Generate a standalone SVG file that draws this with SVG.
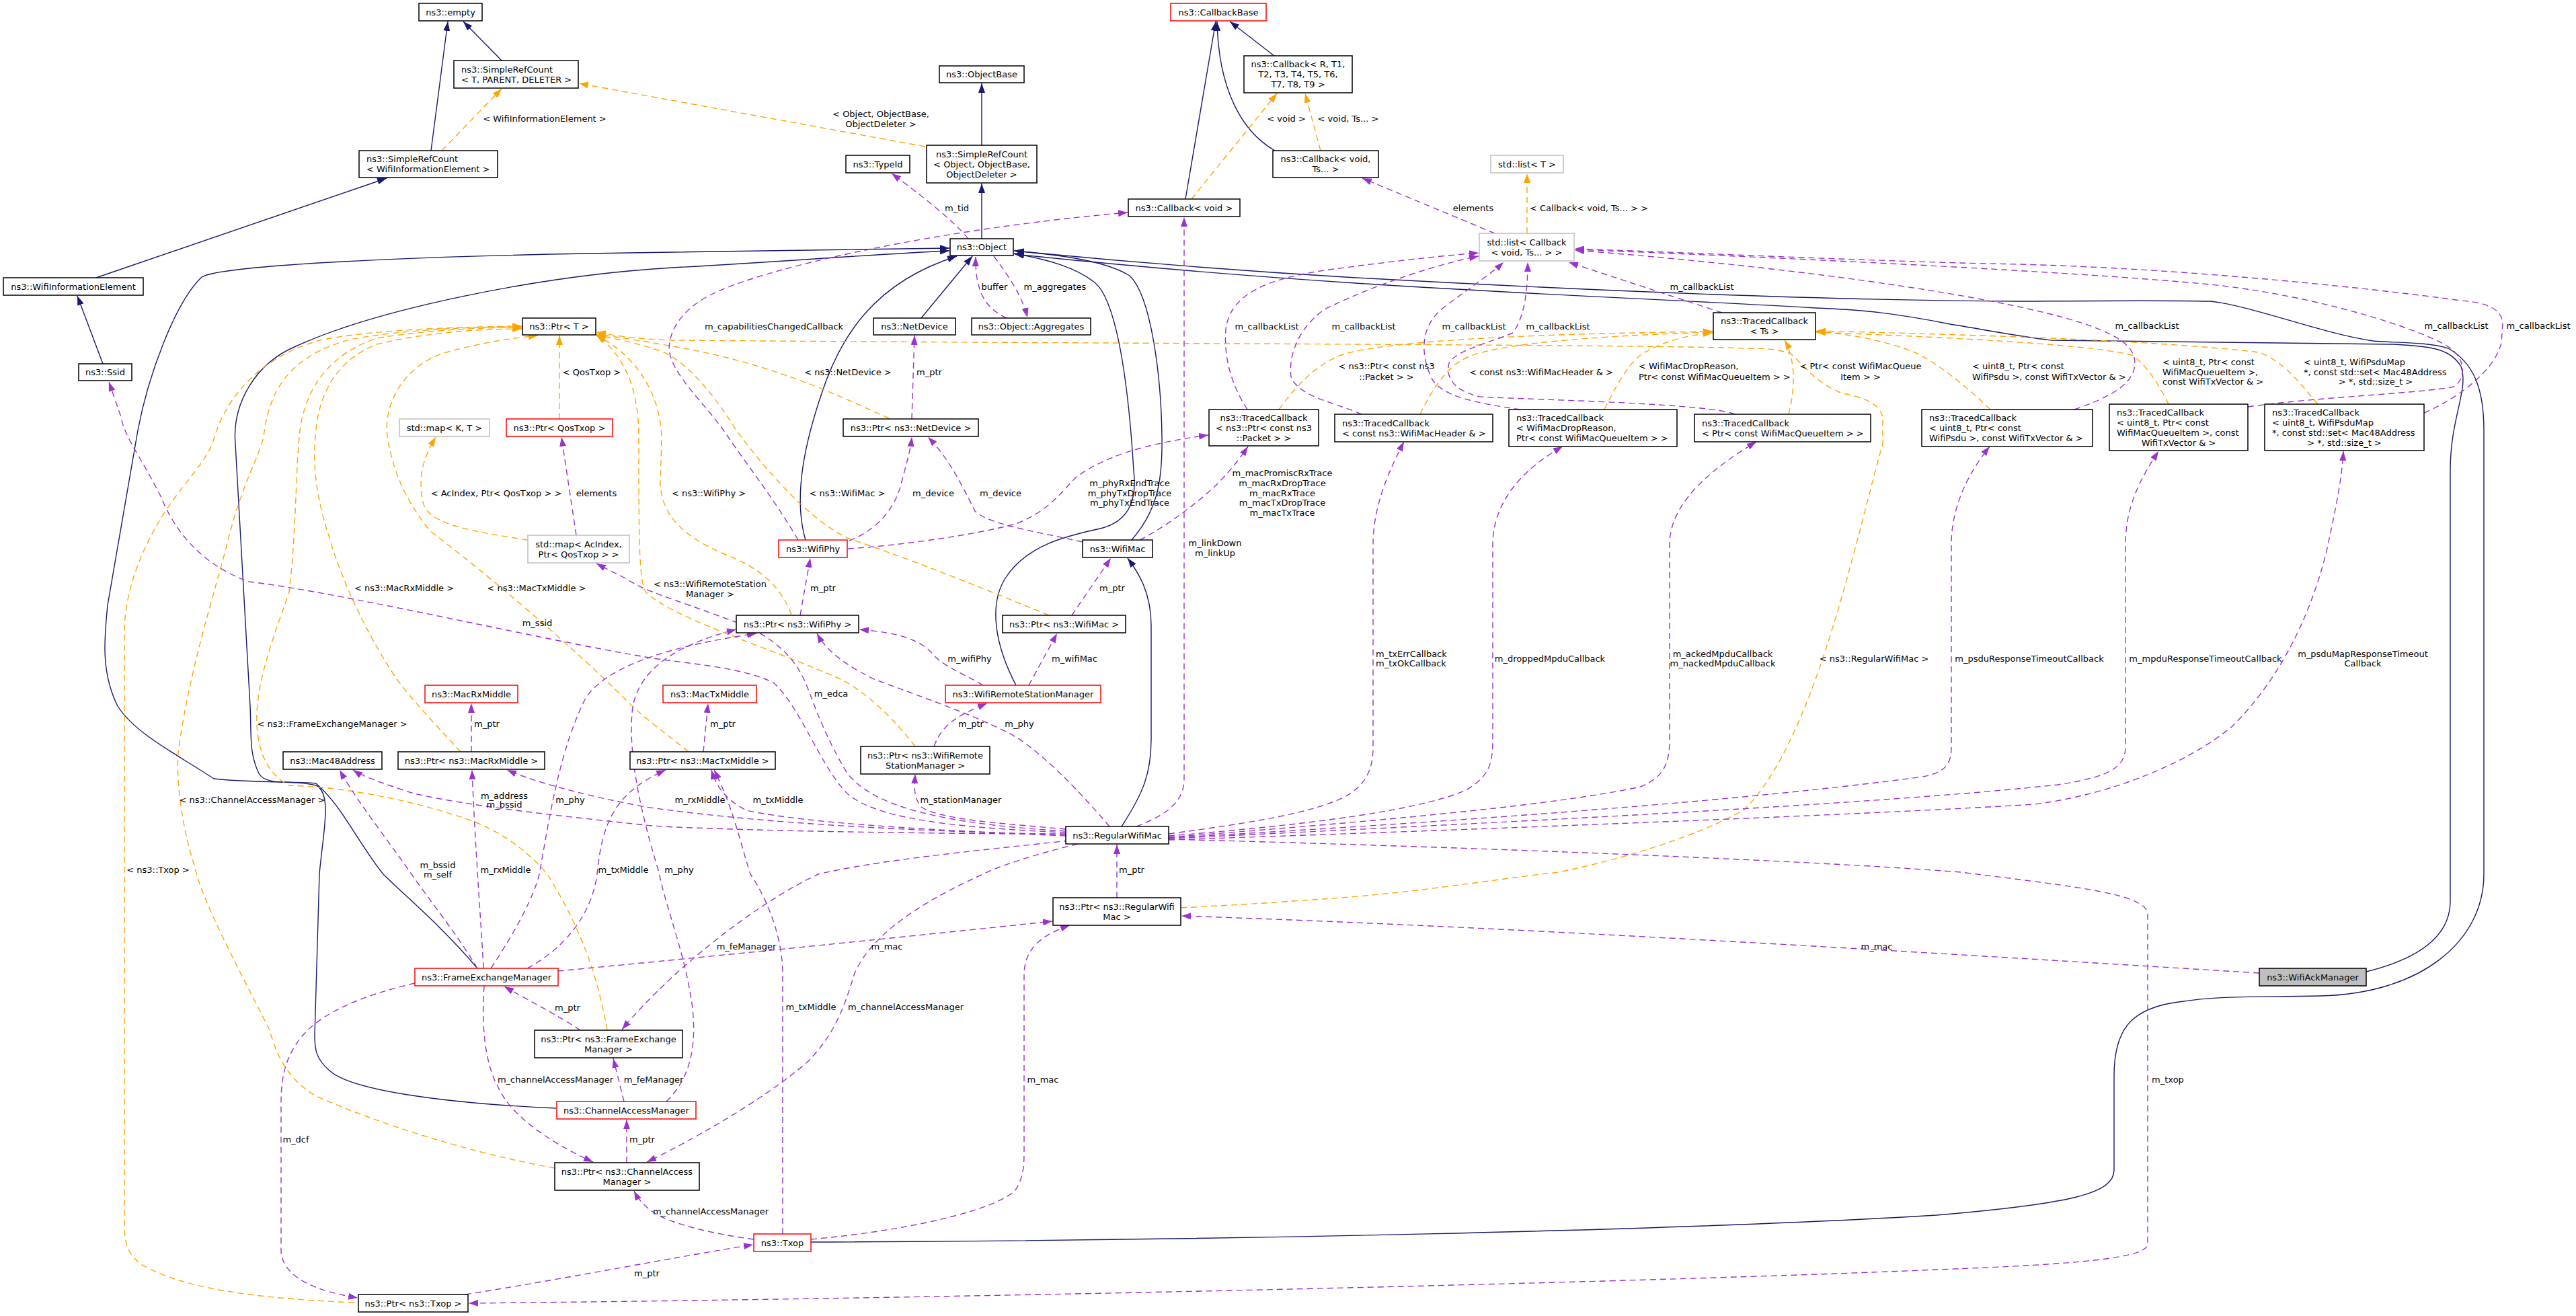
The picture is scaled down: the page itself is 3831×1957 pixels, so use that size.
<svg xmlns="http://www.w3.org/2000/svg" width="3831" height="1957" viewBox="0 0 3831 1957">
<style>
text{font-family:"DejaVu Sans","Liberation Sans",sans-serif;font-size:13px;fill:#000;text-anchor:middle}
text.s{text-anchor:start}
.nb{fill:#fff;stroke:#000;stroke-width:1.5}
.nr{fill:#fff;stroke:#f00;stroke-width:1.5}
.ng{fill:#fff;stroke:#bfbfbf;stroke-width:1.5}
.nf{fill:#bfbfbf;stroke:#000;stroke-width:1.5}
.e{fill:none;stroke-width:1.4}
.i{stroke:#191970;marker-end:url(#mb)}
.u{stroke:#9a32cd;stroke-dasharray:9,6;marker-end:url(#mp)}
.t{stroke:#ffa500;stroke-dasharray:9,6;marker-end:url(#mo)}
</style>
<defs>
<marker id="mb" viewBox="0 0 14 10" refX="14" refY="5" markerWidth="14" markerHeight="10" markerUnits="userSpaceOnUse" orient="auto"><path d="M0,0 L14,5 L0,10 z" fill="#191970"/></marker>
<marker id="mp" viewBox="0 0 14 10" refX="14" refY="5" markerWidth="14" markerHeight="10" markerUnits="userSpaceOnUse" orient="auto"><path d="M0,0 L14,5 L0,10 z" fill="#9a32cd"/></marker>
<marker id="mo" viewBox="0 0 14 10" refX="14" refY="5" markerWidth="14" markerHeight="10" markerUnits="userSpaceOnUse" orient="auto"><path d="M0,0 L14,5 L0,10 z" fill="#ffa500"/></marker>
</defs>
<rect width="3831" height="1957" fill="#fff"/>
<g id="edges">
<!-- inheritance -->
<path class="e i" d="M641,224 L666,32"/>
<path class="e i" d="M746,90 L689,32"/>
<path class="e i" d="M143,413 L575,265"/>
<path class="e i" d="M153,541 L115,440"/>
<path class="e i" d="M1895,83 L1829,32"/>
<path class="e i" d="M1896,224 C1845,195 1812,130 1810,32"/>
<path class="e i" d="M1763,296 L1808,32"/>
<path class="e i" d="M1460,216 L1460,124"/>
<path class="e i" d="M1460,355 L1460,273"/>
<path class="e i" d="M1370,473 L1446,381"/>
<path class="e i" d="M1198,803 C1178,735 1200,650 1222,585 C1250,500 1300,420 1423,381"/>
<path class="e i" d="M1683,803 C1720,760 1729,720 1728,650 C1727,560 1712,440 1680,410 C1640,385 1560,378 1508,373"/>
<path class="e i" d="M1511,1019 C1480,960 1470,900 1495,860 C1530,805 1600,795 1640,785 C1685,772 1690,735 1686,700 C1680,600 1665,450 1628,420 C1600,398 1560,386 1508,377"/>
<path class="e i" d="M710,1440 C660,1380 600,1330 570,1300 C530,1250 510,1200 470,1165 C440,1160 395,1170 385,1150 C370,1120 374,1090 372,1050 L350,660 C345,600 380,540 440,515 C560,460 800,410 1000,398 C1150,390 1300,378 1412,373"/>
<path class="e i" d="M827,1648 C650,1640 520,1620 490,1592 C470,1575 468,1560 468,1540 L475,1300 C480,1240 495,1180 470,1168 C440,1160 380,1165 318,1158 C260,1120 200,1090 175,1050 C150,1000 155,950 160,900 L205,640 C220,560 260,450 300,412 C330,395 600,380 1000,375 C1150,372 1300,370 1412,369"/>
<path class="e i" d="M3519,1445 C3600,1425 3644,1390 3644,1340 L3644,700 C3644,620 3672,580 3660,545 C3645,520 3620,515 3560,512 L3051,506 C3000,500 2950,490 2900,482 C2800,462 2750,460 2700,458 C2400,440 2000,430 1509,378"/>
<path class="e i" d="M1206,1847 C1800,1845 2500,1830 2880,1807 C3080,1790 3144,1775 3144,1740 L3144,1600 C3144,1530 3170,1499 3240,1490 C3300,1481 3330,1483 3450,1481 C3600,1478 3694,1400 3694,1300 L3694,640 C3694,580 3680,540 3641,518 C3610,508 3560,510 3529,507 C3450,495 3350,455 3287,448 C3200,446 3050,448 3000,448 C2800,447 2500,440 2000,412 C1800,400 1600,382 1509,373"/>
<path class="e i" d="M1668,1229 C1700,1180 1712,1150 1712,1100 L1712,930 C1712,880 1692,850 1677,830"/>
<!-- template instantiation -->
<path class="e t" d="M657,224 L746,132"/>
<path class="e t" d="M1376,218 L861,124"/>
<path class="e t" d="M1772,296 L1899,139"/>
<path class="e t" d="M1964,224 L1941,139"/>
<path class="e t" d="M2271,347 L2271,258"/>
<path class="e t" d="M785,803 C700,790 640,780 630,750 C620,710 630,680 648,650"/>
<path class="e t" d="M832,623 L832,499"/>
<path class="e t" d="M527,1937 C350,1930 260,1910 210,1880 C190,1865 185,1850 185,1820 L185,940 C185,860 230,780 260,740 C290,700 310,680 319,650 C340,580 400,525 480,505 C560,490 680,486 776,485"/>
<path class="e t" d="M825,1737 C700,1715 560,1670 470,1630 C420,1600 410,1560 400,1530 C360,1450 300,1340 290,1290 C270,1230 262,1160 265,1120 C280,1000 320,880 340,800 C360,720 385,680 392,650 C400,580 430,530 520,505 C600,490 700,486 776,486"/>
<path class="e t" d="M903,1532 C890,1460 870,1390 814,1300 C780,1260 740,1235 700,1220 C600,1185 500,1170 430,1168 C395,1150 380,1110 382,1060 C385,1000 410,940 430,880 C440,800 440,700 445,650 C450,590 480,530 560,503 C640,490 720,487 776,487"/>
<path class="e t" d="M685,1118 C660,1090 620,1050 590,1010 C550,950 510,870 490,800 C470,740 465,690 469,650 C472,600 490,540 560,512 C640,493 720,489 776,489"/>
<path class="e t" d="M1024,1118 C990,1090 960,1070 930,1040 C850,960 720,850 640,790 C600,740 585,700 576,650 C570,600 600,545 660,525 C720,508 770,502 800,499"/>
<path class="e t" d="M1322,622 C1250,590 1150,540 1000,515 C950,506 910,500 887,497"/>
<path class="e t" d="M1177,914 C1160,870 1130,845 1080,825 C1020,800 985,770 982,720 L984,650 C982,590 950,530 887,499"/>
<path class="e t" d="M1560,915 C1450,870 1350,830 1260,800 C1200,770 1140,700 1095,640 C1070,600 1030,545 990,525 C950,510 920,505 887,498"/>
<path class="e t" d="M1361,1110 C1330,1070 1290,1030 1250,1010 C1150,965 1000,920 960,880 C950,860 950,800 950,650 C950,580 930,530 887,498"/>
<path class="e t" d="M1756,1350 C1850,1345 1900,1342 1920,1340 C2100,1330 2200,1310 2318,1297 C2450,1270 2550,1230 2594,1204 C2700,1100 2760,800 2800,660 L2800,620 C2795,600 2770,590 2740,585 C2700,570 2680,540 2663,526 C2640,518 2620,518 2600,518 C2400,512 1800,512 1000,506 C940,504 910,498 887,494"/>
<path class="e t" d="M1902,609 C1930,570 1960,540 2000,526 C2100,500 2400,495 2547,493"/>
<path class="e t" d="M2112,616 C2130,580 2150,545 2185,530 C2250,505 2450,497 2547,494"/>
<path class="e t" d="M2386,609 C2410,560 2430,530 2450,522 C2480,505 2520,497 2547,495"/>
<path class="e t" d="M2660,616 C2672,570 2668,530 2654,506"/>
<path class="e t" d="M2960,609 C2920,570 2880,540 2850,525 C2800,505 2750,497 2701,493"/>
<path class="e t" d="M3225,601 C3210,570 3190,540 3170,528 C3100,510 2850,500 2701,494"/>
<path class="e t" d="M3447,601 C3420,570 3400,540 3360,524 C3200,505 2900,497 2701,492"/>
<!-- usage -->
<path class="e u" d="M1440,355 C1420,330 1370,290 1326,258"/>
<path class="e u" d="M1478,381 C1500,410 1520,440 1528,472"/>
<path class="e u" d="M1497,473 C1470,460 1450,440 1451,382"/>
<path class="e u" d="M1187,803 C1150,740 1110,690 1083,650 C1050,600 1000,560 995,520 C995,480 1030,450 1064,435 C1150,395 1400,340 1677,316"/>
<path class="e u" d="M1356,623 L1360,499"/>
<path class="e u" d="M1263,804 C1300,790 1330,760 1340,720 C1348,690 1354,670 1356,650"/>
<path class="e u" d="M1610,806 C1540,790 1470,780 1450,760 C1430,720 1410,680 1380,650"/>
<path class="e u" d="M1261,816 C1350,810 1450,795 1511,779 C1560,760 1580,730 1600,710 C1640,680 1700,660 1797,647"/>
<path class="e u" d="M1695,803 C1740,780 1790,740 1810,720 C1830,700 1845,680 1856,664"/>
<path class="e u" d="M1190,915 L1205,830"/>
<path class="e u" d="M1594,915 L1652,830"/>
<path class="e u" d="M1462,1019 C1430,1000 1400,990 1385,970 C1360,945 1320,940 1278,936"/>
<path class="e u" d="M1530,1019 L1572,942"/>
<path class="e u" d="M1389,1110 C1400,1080 1420,1065 1468,1046"/>
<path class="e u" d="M1585,1233 C1500,1225 1400,1220 1370,1200 C1358,1185 1360,1170 1361,1151"/>
<path class="e u" d="M1046,1118 L1053,1046"/>
<path class="e u" d="M701,1118 L701,1046"/>
<path class="e u" d="M1585,1236 C1400,1225 1300,1200 1260,1150 C1230,1100 1215,1060 1200,1020 C1180,970 1140,940 1080,920 C1000,890 960,880 930,860 C915,852 900,845 887,838"/>
<path class="e u" d="M1585,1238 C1400,1230 1300,1215 1260,1180 C1220,1140 1190,1050 1150,1015 C1100,990 1000,985 960,977 C800,950 500,880 370,865 C300,840 260,790 240,740 C210,680 185,650 180,620 L162,568"/>
<path class="e u" d="M1585,1240 C1300,1240 1000,1232 960,1227 C850,1215 700,1200 612,1179 C570,1165 540,1155 525,1145"/>
<path class="e u" d="M710,1440 C680,1390 640,1340 612,1300 C570,1240 530,1190 505,1145"/>
<path class="e u" d="M1585,1241 C1300,1235 1100,1220 960,1200 C880,1185 800,1165 754,1145"/>
<path class="e u" d="M719,1440 C716,1380 706,1250 702,1145"/>
<path class="e u" d="M1585,1243 C1400,1235 1200,1225 1110,1205 C1080,1190 1065,1170 1058,1145"/>
<path class="e u" d="M784,1440 C840,1410 880,1360 888,1300 C895,1230 910,1180 990,1145"/>
<path class="e u" d="M1164,1835 L1164,1450 C1164,1380 1130,1320 1116,1300 C1100,1250 1090,1200 1062,1145"/>
<path class="e u" d="M1650,1229 C1600,1170 1540,1110 1500,1090 C1440,1060 1380,1040 1300,1010 C1260,990 1230,970 1215,942"/>
<path class="e u" d="M730,1440 C770,1380 795,1330 802,1300 C815,1230 830,1120 870,1040 C900,990 1000,960 1125,942"/>
<path class="e u" d="M991,1638 C1030,1600 1035,1550 1030,1500 C1020,1420 990,1350 980,1297 C950,1200 935,1120 940,1060 C945,1000 1000,960 1095,936"/>
<path class="e u" d="M1591,1250 C1450,1265 1300,1280 1217,1300 C1130,1340 1000,1440 925,1531"/>
<path class="e u" d="M928,1638 L912,1574"/>
<path class="e u" d="M863,1532 C830,1510 790,1490 750,1467"/>
<path class="e u" d="M830,1444 C1000,1428 1300,1398 1565,1370"/>
<path class="e u" d="M1206,1843 C1350,1830 1480,1800 1510,1770 C1523,1750 1523,1730 1523,1710 L1523,1450 C1523,1410 1550,1390 1591,1376"/>
<path class="e u" d="M3360,1447 C3000,1425 2300,1380 1757,1362"/>
<path class="e u" d="M1661,1335 L1661,1256"/>
<path class="e u" d="M1603,1255 C1540,1270 1480,1290 1462,1300 C1350,1350 1290,1400 1270,1450 C1255,1500 1240,1540 1200,1580 C1130,1640 1020,1700 962,1728"/>
<path class="e u" d="M720,1466 C716,1520 720,1580 741,1617 C760,1660 820,1700 882,1728"/>
<path class="e u" d="M932,1729 L932,1665"/>
<path class="e u" d="M1121,1843 C1060,1835 1000,1820 975,1805 C960,1795 950,1785 943,1771"/>
<path class="e u" d="M617,1462 C540,1480 480,1505 450,1540 C425,1570 418,1600 418,1640 L418,1860 C420,1900 470,1920 532,1930"/>
<path class="e u" d="M692,1925 C850,1900 1000,1870 1120,1851"/>
<path class="e u" d="M1738,1248 C2200,1260 2700,1280 2916,1297 C3100,1320 3194,1330 3194,1360 L3194,1850 C3194,1870 3100,1880 2880,1888 C2500,1905 1500,1930 697,1938"/>
<path class="e u" d="M1738,1240 C1850,1225 1950,1210 2000,1185 C2035,1165 2042,1140 2042,1110 L2042,810 C2042,760 2060,710 2088,657"/>
<path class="e u" d="M1738,1243 C1900,1230 2100,1210 2180,1175 C2215,1155 2220,1135 2220,1100 L2220,810 C2220,750 2260,700 2324,664"/>
<path class="e u" d="M1738,1245 C2000,1225 2300,1200 2440,1170 C2475,1155 2483,1135 2483,1100 L2483,810 C2483,750 2540,700 2612,657"/>
<path class="e u" d="M1738,1246 C2200,1220 2600,1190 2860,1155 C2895,1148 2902,1135 2902,1110 L2902,810 C2902,750 2930,700 2959,664"/>
<path class="e u" d="M1738,1247 C2300,1220 2800,1195 3060,1167 C3140,1155 3161,1140 3161,1110 L3161,810 C3161,750 3185,710 3210,671"/>
<path class="e u" d="M1738,1249 C2300,1230 2800,1210 3026,1196 C3150,1180 3260,1130 3320,1080 C3400,1000 3440,900 3460,820 C3475,750 3483,710 3485,671"/>
<path class="e u" d="M1690,1229 C1740,1210 1760,1190 1761,1160 L1761,323"/>
<path class="e u" d="M2561,465 L2333,390"/>
<path class="e u" d="M1855,609 C1830,570 1820,530 1823,490 C1830,430 1900,410 2000,398 C2100,385 2150,380 2199,376"/>
<path class="e u" d="M2025,616 C1990,600 1930,590 1920,560 C1915,520 1940,480 1970,460 C2050,420 2150,390 2199,381"/>
<path class="e u" d="M2261,609 C2200,600 2140,590 2128,560 C2110,520 2115,480 2150,455 C2190,425 2220,405 2236,390"/>
<path class="e u" d="M2580,616 C2540,600 2300,595 2200,590 C2160,580 2150,560 2155,540 C2165,520 2230,505 2250,495 C2268,470 2272,430 2272,390"/>
<path class="e u" d="M3085,609 C3140,590 3175,570 3175,540 C3175,515 3150,500 3110,485 C3000,445 2700,400 2342,372"/>
<path class="e u" d="M3343,605 C3450,590 3600,585 3650,575 C3670,560 3665,530 3640,515 C3600,490 3450,440 3287,423 C3100,405 2700,385 2342,371"/>
<path class="e u" d="M3605,614 C3660,590 3710,550 3720,510 L3722,480 C3720,460 3700,450 3660,447 C3500,425 3200,395 2950,392 C2700,385 2500,375 2342,370"/>
<path class="e u" d="M2223,347 L2026,265"/>
<path class="e u" d="M857,796 L835,650"/>
<!-- edge labels -->
<text x="810" y="180.5">&lt; WifiInformationElement &gt;</text>
<text x="1310" y="173.5">&lt; Object, ObjectBase,</text>
<text x="1310" y="188.5">ObjectDeleter &gt;</text>
<text x="1423" y="313.5">m_tid</text>
<text x="1479" y="430.5">buffer</text>
<text x="1569" y="430.5">m_aggregates</text>
<text x="1151" y="489.5">m_capabilitiesChangedCallback</text>
<text x="1261" y="557.5">&lt; ns3::NetDevice &gt;</text>
<text x="1382" y="557.5">m_ptr</text>
<text x="1913" y="180.5">&lt; void &gt;</text>
<text x="2005" y="180.5">&lt; void, Ts... &gt;</text>
<text x="2191" y="313.5">elements</text>
<text x="2363" y="313.5">&lt; Callback&lt; void, Ts... &gt; &gt;</text>
<text x="2531" y="430.5">m_callbackList</text>
<text x="1884" y="489.5">m_callbackList</text>
<text x="2028" y="489.5">m_callbackList</text>
<text x="2192" y="489.5">m_callbackList</text>
<text x="2317" y="489.5">m_callbackList</text>
<text x="3193" y="488.5">m_callbackList</text>
<text x="3653" y="488.5">m_callbackList</text>
<text x="3775" y="488.5">m_callbackList</text>
<text x="2062" y="548.5">&lt; ns3::Ptr&lt; const ns3</text>
<text x="2062" y="564.5">::Packet &gt; &gt;</text>
<text x="2292" y="557.5">&lt; const ns3::WifiMacHeader &amp; &gt;</text>
<text class="s" x="2437" y="548.5">&lt; WifiMacDropReason,</text>
<text class="s" x="2437" y="564.5">Ptr&lt; const WifiMacQueueItem &gt; &gt;</text>
<text x="2767" y="548.5">&lt; Ptr&lt; const WifiMacQueue</text>
<text x="2767" y="564.5">Item &gt; &gt;</text>
<text class="s" x="2933" y="548.5">&lt; uint8_t, Ptr&lt; const</text>
<text class="s" x="2933" y="564.5">WifiPsdu &gt;, const WifiTxVector &amp; &gt;</text>
<text class="s" x="3216" y="542.5">&lt; uint8_t, Ptr&lt; const</text>
<text class="s" x="3216" y="557.5">WifiMacQueueItem &gt;,</text>
<text class="s" x="3216" y="571.5">const WifiTxVector &amp; &gt;</text>
<text class="s" x="3426" y="542.5">&lt; uint8_t, WifiPsduMap</text>
<text class="s" x="3426" y="557.5">*, const std::set&lt; Mac48Address</text>
<text x="3533" y="571.5">&gt; *, std::size_t &gt;</text>
<text x="880" y="557.5">&lt; QosTxop &gt;</text>
<text x="738" y="737.5">&lt; AcIndex, Ptr&lt; QosTxop &gt; &gt;</text>
<text x="887" y="737.5">elements</text>
<text x="1054" y="737.5">&lt; ns3::WifiPhy &gt;</text>
<text x="1260" y="737.5">&lt; ns3::WifiMac &gt;</text>
<text x="1388" y="737.5">m_device</text>
<text x="1488" y="737.5">m_device</text>
<text x="1680" y="722.5">m_phyRxEndTrace</text>
<text x="1680" y="737.5">m_phyTxDropTrace</text>
<text x="1680" y="751.5">m_phyTxEndTrace</text>
<text x="1907" y="707.5">m_macPromiscRxTrace</text>
<text x="1907" y="722.5">m_macRxDropTrace</text>
<text x="1907" y="737.5">m_macRxTrace</text>
<text x="1907" y="751.5">m_macTxDropTrace</text>
<text x="1907" y="766.5">m_macTxTrace</text>
<text x="1807" y="811.5">m_linkDown</text>
<text x="1807" y="826.5">m_linkUp</text>
<text x="601" y="878.5">&lt; ns3::MacRxMiddle &gt;</text>
<text x="798" y="878.5">&lt; ns3::MacTxMiddle &gt;</text>
<text x="799" y="930.5">m_ssid</text>
<text x="1056" y="872.5">&lt; ns3::WifiRemoteStation</text>
<text x="1056" y="887.5">Manager &gt;</text>
<text x="1224" y="878.5">m_ptr</text>
<text x="1654" y="878.5">m_ptr</text>
<text x="1442" y="983.5">m_wifiPhy</text>
<text x="1598" y="983.5">m_wifiMac</text>
<text x="1236" y="1035.5">m_edca</text>
<text x="724" y="1080.5">m_ptr</text>
<text x="494" y="1080.5">&lt; ns3::FrameExchangeManager &gt;</text>
<text x="1075" y="1080.5">m_ptr</text>
<text x="1444" y="1080.5">m_ptr</text>
<text x="1516" y="1080.5">m_phy</text>
<text x="375" y="1193.5">&lt; ns3::ChannelAccessManager &gt;</text>
<text x="750" y="1187.5">m_address</text>
<text x="750" y="1200.5">m_bssid</text>
<text x="848" y="1193.5">m_phy</text>
<text x="1041" y="1193.5">m_rxMiddle</text>
<text x="1157" y="1193.5">m_txMiddle</text>
<text x="1429" y="1193.5">m_stationManager</text>
<text x="651" y="1290.5">m_bssid</text>
<text x="651" y="1304.5">m_self</text>
<text x="752" y="1297.5">m_rxMiddle</text>
<text x="927" y="1297.5">m_txMiddle</text>
<text x="235" y="1297.5">&lt; ns3::Txop &gt;</text>
<text x="1010" y="1297.5">m_phy</text>
<text x="1683" y="1297.5">m_ptr</text>
<text x="1110" y="1411.5">m_feManager</text>
<text x="1319" y="1411.5">m_mac</text>
<text x="2791" y="1411.5">m_mac</text>
<text x="844" y="1502.5">m_ptr</text>
<text x="1206" y="1501.5">m_txMiddle</text>
<text x="1347" y="1501.5">m_channelAccessManager</text>
<text x="826" y="1609.5">m_channelAccessManager</text>
<text x="972" y="1609.5">m_feManager</text>
<text x="1551" y="1609.5">m_mac</text>
<text x="3224" y="1609.5">m_txop</text>
<text x="440" y="1698.5">m_dcf</text>
<text x="955" y="1698.5">m_ptr</text>
<text x="1057" y="1805.5">m_channelAccessManager</text>
<text x="962" y="1897.5">m_ptr</text>
<text class="s" x="2046" y="976.5">m_txErrCallback</text>
<text class="s" x="2046" y="990.5">m_txOkCallback</text>
<text x="2305" y="983.5">m_droppedMpduCallback</text>
<text x="2562" y="976.5">m_ackedMpduCallback</text>
<text x="2562" y="990.5">m_nackedMpduCallback</text>
<text x="2787" y="983.5">&lt; ns3::RegularWifiMac &gt;</text>
<text x="3018" y="983.5">m_psduResponseTimeoutCallback</text>
<text x="3280" y="983.5">m_mpduResponseTimeoutCallback</text>
<text x="3514" y="976.5">m_psduMapResponseTimeout</text>
<text x="3514" y="990.5">Callback</text>
</g>
<g id="n_empty"><rect class="nb" x="623" y="5" width="94" height="26"/><text x="670" y="22.5">ns3::empty</text></g>
<g id="n_srctpd"><rect class="nb" x="675" y="90" width="185" height="41"/><text class="s" x="686" y="107.5">ns3::SimpleRefCount</text><text class="s" x="686" y="122.5">&lt; T, PARENT, DELETER &gt;</text></g>
<g id="n_srcwie"><rect class="nb" x="534" y="224" width="206" height="40"/><text class="s" x="545" y="241">ns3::SimpleRefCount</text><text class="s" x="545" y="256">&lt; WifiInformationElement &gt;</text></g>
<g id="n_wie"><rect class="nb" x="5" y="413" width="208" height="26"/><text x="109" y="430.5">ns3::WifiInformationElement</text></g>
<g id="n_ssid"><rect class="nb" x="117" y="541" width="79" height="25"/><text x="156.5" y="558">ns3::Ssid</text></g>
<g id="n_callbackbase"><rect class="nr" x="1741" y="5" width="142" height="26"/><text x="1812" y="22.5">ns3::CallbackBase</text></g>
<g id="n_objectbase"><rect class="nb" x="1397" y="98" width="126" height="25"/><text x="1460" y="115">ns3::ObjectBase</text></g>
<g id="n_callbackr"><rect class="nb" x="1850" y="83" width="161" height="55"/><text x="1930.5" y="100">ns3::Callback&lt; R, T1,</text><text x="1930.5" y="115">T2, T3, T4, T5, T6,</text><text x="1930.5" y="130">T7, T8, T9 &gt;</text></g>
<g id="n_callbackvoidts"><rect class="nb" x="1893" y="224" width="157" height="40"/><text x="1971.5" y="241">ns3::Callback&lt; void,</text><text x="1971.5" y="256">Ts... &gt;</text></g>
<g id="n_srcobj"><rect class="nb" x="1378" y="216" width="164" height="56"/><text x="1460" y="233.5">ns3::SimpleRefCount</text><text x="1460" y="248.5">&lt; Object, ObjectBase,</text><text x="1460" y="263.5">ObjectDeleter &gt;</text></g>
<g id="n_typeid"><rect class="nb" x="1258" y="231" width="95" height="26"/><text x="1305.5" y="248.5">ns3::TypeId</text></g>
<g id="n_callbackvoid"><rect class="nb" x="1678" y="296" width="166" height="26"/><text x="1761" y="313.5">ns3::Callback&lt; void &gt;</text></g>
<g id="n_listt"><rect class="ng" x="2217" y="231" width="108" height="26"/><text x="2271" y="248.5">std::list&lt; T &gt;</text></g>
<g id="n_object"><rect class="nb" x="1413" y="355" width="94" height="25"/><text x="1460" y="372">ns3::Object</text></g>
<g id="n_listcb"><rect class="ng" x="2200" y="347" width="141" height="41"/><text x="2270.5" y="364.5">std::list&lt; Callback</text><text x="2270.5" y="379.5">&lt; void, Ts... &gt; &gt;</text></g>
<g id="n_netdevice"><rect class="nb" x="1299" y="473" width="122" height="25"/><text x="1360" y="490">ns3::NetDevice</text></g>
<g id="n_aggregates"><rect class="nb" x="1445" y="473" width="177" height="25"/><text x="1533.5" y="490">ns3::Object::Aggregates</text></g>
<g id="n_ptrt"><rect class="nb" x="777" y="473" width="109" height="25"/><text x="831.5" y="490">ns3::Ptr&lt; T &gt;</text></g>
<g id="n_tcts"><rect class="nb" x="2548" y="465" width="152" height="40"/><text x="2624" y="482">ns3::TracedCallback</text><text x="2624" y="497">&lt; Ts &gt;</text></g>
<g id="n_mapkt"><rect class="ng" x="594" y="623" width="134" height="26"/><text x="661" y="640.5">std::map&lt; K, T &gt;</text></g>
<g id="n_ptrqostxop"><rect class="nr" x="753" y="623" width="158" height="26"/><text x="832" y="640.5">ns3::Ptr&lt; QosTxop &gt;</text></g>
<g id="n_ptrnetdevice"><rect class="nb" x="1254" y="623" width="201" height="26"/><text x="1354.5" y="640.5">ns3::Ptr&lt; ns3::NetDevice &gt;</text></g>
<g id="n_tcpacket"><rect class="nb" x="1798" y="609" width="163" height="54"/><text x="1879.5" y="625.5">ns3::TracedCallback</text><text x="1879.5" y="640.5">&lt; ns3::Ptr&lt; const ns3</text><text x="1879.5" y="655.5">::Packet &gt; &gt;</text></g>
<g id="n_tcmacheader"><rect class="nb" x="1985" y="616" width="235" height="41"/><text class="s" x="1996" y="633.5">ns3::TracedCallback</text><text class="s" x="1996" y="648.5">&lt; const ns3::WifiMacHeader &amp; &gt;</text></g>
<g id="n_tcdropreason"><rect class="nb" x="2244" y="609" width="250" height="55"/><text class="s" x="2255" y="626">ns3::TracedCallback</text><text class="s" x="2255" y="641">&lt; WifiMacDropReason,</text><text class="s" x="2255" y="656">Ptr&lt; const WifiMacQueueItem &gt; &gt;</text></g>
<g id="n_tcqueueitem"><rect class="nb" x="2520" y="616" width="262" height="41"/><text class="s" x="2531" y="633.5">ns3::TracedCallback</text><text class="s" x="2531" y="648.5">&lt; Ptr&lt; const WifiMacQueueItem &gt; &gt;</text></g>
<g id="n_tcwifipsdu"><rect class="nb" x="2858" y="609" width="254" height="55"/><text class="s" x="2869" y="626">ns3::TracedCallback</text><text class="s" x="2869" y="641">&lt; uint8_t, Ptr&lt; const</text><text class="s" x="2869" y="656">WifiPsdu &gt;, const WifiTxVector &amp; &gt;</text></g>
<g id="n_tcmpduqi"><rect class="nb" x="3137" y="601" width="206" height="69"/><text class="s" x="3148" y="617.5">ns3::TracedCallback</text><text class="s" x="3148" y="632.5">&lt; uint8_t, Ptr&lt; const</text><text class="s" x="3148" y="647.5"> WifiMacQueueItem &gt;, const</text><text x="3240" y="662.5">WifiTxVector &amp; &gt;</text></g>
<g id="n_tcpsdumap"><rect class="nb" x="3368" y="601" width="237" height="69"/><text class="s" x="3379" y="617.5">ns3::TracedCallback</text><text class="s" x="3379" y="632.5">&lt; uint8_t, WifiPsduMap</text><text class="s" x="3379" y="647.5"> *, const std::set&lt; Mac48Address</text><text x="3486.5" y="662.5">&gt; *, std::size_t &gt;</text></g>
<g id="n_mapacindex"><rect class="ng" x="785" y="796" width="151" height="41"/><text x="860.5" y="813.5">std::map&lt; AcIndex,</text><text x="860.5" y="828.5">Ptr&lt; QosTxop &gt; &gt;</text></g>
<g id="n_wifiphy"><rect class="nr" x="1158" y="803" width="102" height="26"/><text x="1209" y="820.5">ns3::WifiPhy</text></g>
<g id="n_wifimac"><rect class="nb" x="1610" y="803" width="104" height="26"/><text x="1662" y="820.5">ns3::WifiMac</text></g>
<g id="n_ptrwifiphy"><rect class="nb" x="1095" y="915" width="182" height="26"/><text x="1186" y="932.5">ns3::Ptr&lt; ns3::WifiPhy &gt;</text></g>
<g id="n_ptrwifimac"><rect class="nb" x="1491" y="915" width="183" height="26"/><text x="1582.5" y="932.5">ns3::Ptr&lt; ns3::WifiMac &gt;</text></g>
<g id="n_macrxmiddle"><rect class="nr" x="632" y="1019" width="138" height="26"/><text x="701" y="1036.5">ns3::MacRxMiddle</text></g>
<g id="n_mactxmiddle"><rect class="nr" x="986" y="1019" width="139" height="26"/><text x="1055.5" y="1036.5">ns3::MacTxMiddle</text></g>
<g id="n_wrsm"><rect class="nr" x="1406" y="1019" width="231" height="26"/><text x="1521.5" y="1036.5">ns3::WifiRemoteStationManager</text></g>
<g id="n_mac48address"><rect class="nb" x="421" y="1118" width="147" height="26"/><text x="494.5" y="1135.5">ns3::Mac48Address</text></g>
<g id="n_ptrmacrx"><rect class="nb" x="592" y="1118" width="218" height="26"/><text x="701" y="1135.5">ns3::Ptr&lt; ns3::MacRxMiddle &gt;</text></g>
<g id="n_ptrmactx"><rect class="nb" x="937" y="1118" width="216" height="26"/><text x="1045" y="1135.5">ns3::Ptr&lt; ns3::MacTxMiddle &gt;</text></g>
<g id="n_ptrwrsm"><rect class="nb" x="1280" y="1110" width="192" height="41"/><text x="1376" y="1127.5">ns3::Ptr&lt; ns3::WifiRemote</text><text x="1376" y="1142.5">StationManager &gt;</text></g>
<g id="n_regularwifimac"><rect class="nb" x="1585" y="1229" width="153" height="26"/><text x="1661.5" y="1246.5">ns3::RegularWifiMac</text></g>
<g id="n_ptrrwm"><rect class="nb" x="1566" y="1335" width="190" height="41"/><text x="1661" y="1352.5">ns3::Ptr&lt; ns3::RegularWifi</text><text x="1661" y="1367.5">Mac &gt;</text></g>
<g id="n_fem"><rect class="nr" x="617" y="1440" width="213" height="26"/><text x="723.5" y="1457.5">ns3::FrameExchangeManager</text></g>
<g id="n_ptrfem"><rect class="nb" x="795" y="1532" width="220" height="41"/><text x="905" y="1549.5">ns3::Ptr&lt; ns3::FrameExchange</text><text x="905" y="1564.5">Manager &gt;</text></g>
<g id="n_cam"><rect class="nr" x="828" y="1638" width="207" height="26"/><text x="931.5" y="1655.5">ns3::ChannelAccessManager</text></g>
<g id="n_ptrcam"><rect class="nb" x="825" y="1729" width="215" height="41"/><text x="932.5" y="1746.5">ns3::Ptr&lt; ns3::ChannelAccess</text><text x="932.5" y="1761.5">Manager &gt;</text></g>
<g id="n_txop"><rect class="nr" x="1121" y="1835" width="85" height="26"/><text x="1163.5" y="1852.5">ns3::Txop</text></g>
<g id="n_ptrtxop"><rect class="nb" x="533" y="1925" width="163" height="26"/><text x="614.5" y="1942.5">ns3::Ptr&lt; ns3::Txop &gt;</text></g>
<g id="n_wifiackmanager"><rect class="nf" x="3360" y="1440" width="159" height="26"/><text x="3439.5" y="1457.5">ns3::WifiAckManager</text></g>
</svg>
